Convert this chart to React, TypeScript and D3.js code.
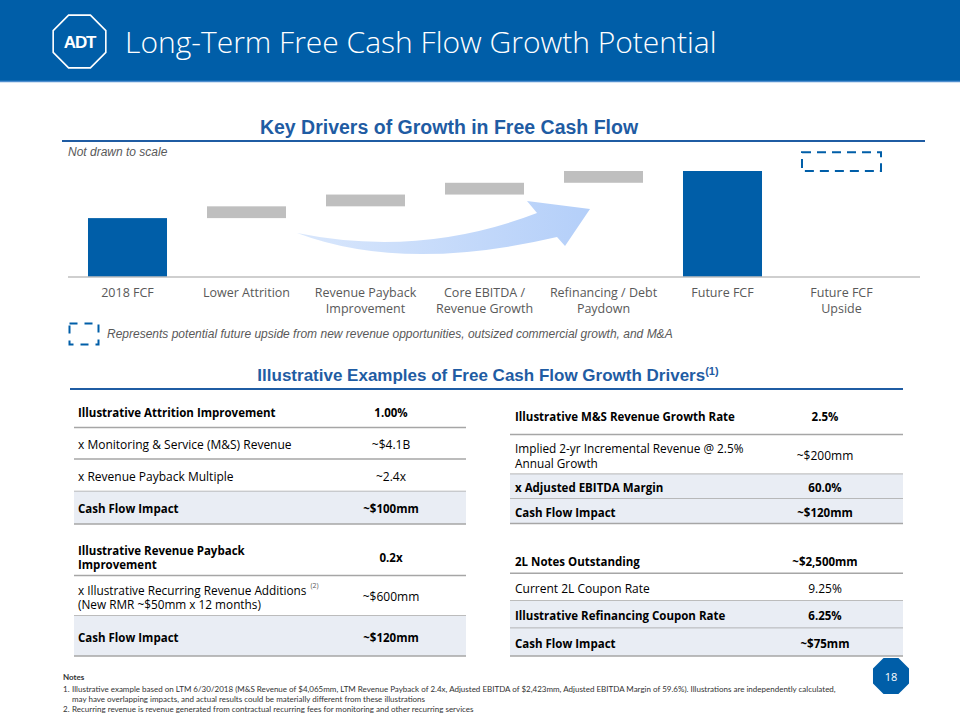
import React from "react";
import * as d3 from "d3";

// ---------- DATA ----------
const categories = [
  "2018 FCF",
  "Lower Attrition",
  "Revenue Payback Improvement",
  "Core EBITDA / Revenue Growth",
  "Refinancing / Debt Paydown",
  "Future FCF",
  "Future FCF Upside",
];
const categoryLines = [
  ["2018 FCF"],
  ["Lower Attrition"],
  ["Revenue Payback", "Improvement"],
  ["Core EBITDA /", "Revenue Growth"],
  ["Refinancing / Debt", "Paydown"],
  ["Future FCF"],
  ["Future FCF", "Upside"],
];
// illustrative units ("Not drawn to scale")
const barValues = [5, 1, 1, 1, 1, 9, 1.6];
const barKinds = ["total", "delta", "delta", "delta", "delta", "total", "upside"];

const leftLabels = [
  ["Illustrative Attrition Improvement"],
  ["x Monitoring & Service (M&S) Revenue"],
  ["x Revenue Payback Multiple"],
  ["Cash Flow Impact"],
  ["Illustrative Revenue Payback", "Improvement"],
  ["x Illustrative Recurring Revenue Additions", "(New RMR ~$50mm x 12 months)"],
  ["Cash Flow Impact"],
];
const leftValues = ["1.00%", "~$4.1B", "~2.4x", "~$100mm", "0.2x", "~$600mm", "~$120mm"];
const leftBold = [true, false, false, true, true, false, true];
const leftShade = [false, false, false, true, false, false, true];

const rightLabels = [
  ["Illustrative M&S Revenue Growth Rate"],
  ["Implied 2-yr Incremental Revenue @ 2.5%", "Annual Growth"],
  ["x Adjusted EBITDA Margin"],
  ["Cash Flow Impact"],
  ["2L Notes Outstanding"],
  ["Current 2L Coupon Rate"],
  ["Illustrative Refinancing Coupon Rate"],
  ["Cash Flow Impact"],
];
const rightValues = ["2.5%", "~$200mm", "60.0%", "~$120mm", "~$2,500mm", "9.25%", "6.25%", "~$75mm"];
const rightBold = [true, false, true, true, true, false, true, true];
const rightShade = [false, false, true, true, false, false, true, true];

const noteLines = [
  "Illustrative example based on LTM 6/30/2018 (M&S Revenue of $4,065mm, LTM Revenue Payback of 2.4x, Adjusted EBITDA of $2,423mm, Adjusted EBITDA Margin of 59.6%). Illustrations are independently calculated,",
  "may have overlapping impacts, and actual results could be materially different from these illustrations",
  "Recurring revenue is revenue generated from contractual recurring fees for monitoring and other recurring services",
];

// ---------- LAYOUT ----------
const W = 960;
const H = 720;
const BLUE = "#005EA8";
const HEAD_BLUE = "#1F5CA3";
const GRAY_TXT = "#595959";
const TABLE_FONT = "'Open Sans', 'Noto Sans', sans-serif";

const leftRowsY = [
  [396, 427.5], [427.5, 459], [459, 491.5], [491.5, 524], [537, 575.5], [575.5, 616], [616, 656],
];
const rightRowsY = [
  [397, 434.5], [434.5, 474.3], [474.3, 499], [499, 523.5], [548, 573.3], [573.3, 601], [601, 628.3], [628.3, 656],
];

function octagon(cx: number, cy: number, r: number) {
  const pts: [number, number][] = [];
  for (let k = 0; k < 8; k++) {
    const a = (Math.PI / 8) + (k * Math.PI) / 4;
    pts.push([cx + r * Math.cos(a), cy + r * Math.sin(a)]);
  }
  return "M" + pts.map((p) => p.join(",")).join("L") + "Z";
}

function Table({ x0, x1, valueX, textX, labels, values, bold, shade, rows, sup }: any) {
  return (
    <g>
      {rows.map((r: number[], i: number) => {
        const [t, b] = r;
        const cy = (t + b) / 2 + 1;
        const lines = labels[i];
        const fw = bold[i] ? 700 : 400;
        const fs = bold[i] ? 11.5 : lines.length > 1 ? 11.8 : 12;
        return (
          <g key={i}>
            {shade[i] && <rect x={x0} y={t} width={x1 - x0} height={b - t} fill="#E9EDF4" />}
            <line x1={x0} x2={x1} y1={b} y2={b} stroke="#A6A6A6" strokeWidth={1.5} />
            {lines.map((ln: string, j: number) => (
              <text
                key={j}
                x={textX}
                y={cy + (j - (lines.length - 1) / 2) * 14.2}
                dominantBaseline="central"
                fontFamily={TABLE_FONT}
                fontSize={fs}
                fontWeight={fw}
                fill="#000"
              >
                {ln}
                {sup && sup.row === i && j === 0 ? (
                  <tspan fontSize={7} dx={4} dy={-5} fill="#595959" fontWeight={400}>
                    {sup.text}
                  </tspan>
                ) : null}
              </text>
            ))}
            <text
              x={valueX}
              y={cy}
              textAnchor="middle"
              dominantBaseline="central"
              fontFamily={TABLE_FONT}
              fontSize={bold[i] ? 11.5 : 12}
              fontWeight={fw}
              fill="#000"
            >
              {values[i]}
            </text>
          </g>
        );
      })}
    </g>
  );
}

export default function App() {
  // waterfall
  let cum = 0;
  let lastTotal = 0;
  const bars = barValues.map((v, i) => {
    const kind = barKinds[i];
    let y0 = 0, y1 = v;
    if (kind === "total") { y0 = 0; y1 = v; cum = v; lastTotal = v; }
    else if (kind === "delta") { y0 = cum; y1 = cum + v; cum = y1; }
    else { y0 = lastTotal; y1 = lastTotal + v; }
    return { cat: categories[i], lines: categoryLines[i], kind, y0, y1 };
  });

  const x = d3.scaleBand<string>().domain(categories).range([68, 901]).paddingInner(0.336).paddingOuter(0.168);
  const y = d3.scaleLinear().domain([0, 9]).range([277, 171]);
  const bw = x.bandwidth();

  // arrow anchored relative to the drivers' bars
  const tx = (x(categories[1]) as number) + bw + 11;
  const ty = y(3.73);
  const arrowPath = d3.path();
  arrowPath.moveTo(tx, ty);
  arrowPath.quadraticCurveTo(tx + 123, ty + 25, tx + 240, ty - 20);
  arrowPath.lineTo(tx + 230, ty - 32);
  arrowPath.lineTo(tx + 293, ty - 24);
  arrowPath.lineTo(tx + 268, ty + 13);
  arrowPath.lineTo(tx + 260, ty + 4);
  arrowPath.quadraticCurveTo(tx + 106, ty + 40, tx, ty);
  arrowPath.closePath();

  return (
    <svg
      width={W}
      height={H}
      viewBox={`0 0 ${W} ${H}`}
      style={{ position: "absolute", left: 0, top: 0, background: "#fff" }}
    >
      <defs>
        <linearGradient id="arrowGrad" x1="0" x2="1" y1="0" y2="0">
          <stop offset="0" stopColor="#D9E7FC" />
          <stop offset="1" stopColor="#B4CFF9" />
        </linearGradient>
      </defs>
      <rect x={0} y={0} width={W} height={H} fill="#fff" />

      {/* Header */}
      <rect x={0} y={0} width={W} height={81} fill={BLUE} />
      <line x1={0} x2={W} y1={81.5} y2={81.5} stroke="#4F8FCF" strokeWidth={1.5} />
      <path d={octagon(79.5, 41.5, 28.5)} fill="none" stroke="#fff" strokeWidth={1.6} />
      <text x={79.5} y={47.5} textAnchor="middle" fontFamily="'Liberation Sans', Arial, sans-serif" fontWeight={700} fontSize={17} letterSpacing={-1.2} fill="#fff">
        ADT
      </text>
      <text x={125} y={53} fontFamily="'Open Sans', sans-serif" fontWeight={300} fontSize={30} fill="#fff">
        Long-Term Free Cash Flow Growth Potential
      </text>

      {/* Chart heading */}
      <text x={449} y={134} textAnchor="middle" fontFamily="'Liberation Sans', Arial, sans-serif" fontWeight={700} fontSize={19.5} fill={HEAD_BLUE}>
        Key Drivers of Growth in Free Cash Flow
      </text>
      <line x1={62} x2={925} y1={141} y2={141} stroke={HEAD_BLUE} strokeWidth={2} />
      <text x={68} y={156} fontFamily="'Liberation Sans', Arial, sans-serif" fontStyle="italic" fontSize={12} fill={GRAY_TXT}>
        Not drawn to scale
      </text>

      {/* Arrow */}
      <path d={arrowPath.toString()} fill="url(#arrowGrad)" />

      {/* Bars */}
      {bars.map((b, i) => {
        const bx = x(b.cat) as number;
        const top = y(b.y1);
        const bot = y(b.y0);
        if (b.kind === "upside") {
          return (
            <rect key={i} x={bx} y={top} width={bw} height={bot - top} fill="none" stroke={BLUE} strokeWidth={2} strokeDasharray="9,6" />
          );
        }
        return (
          <rect key={i} x={bx} y={top} width={bw} height={bot - top} fill={b.kind === "total" ? BLUE : "#BFBFBF"} />
        );
      })}
      <line x1={68} x2={920} y1={y(0)} y2={y(0)} stroke="#BFBFBF" strokeWidth={1.5} />

      {/* Category labels */}
      {bars.map((b, i) => (
        <text key={i} textAnchor="middle" fontFamily={TABLE_FONT} fontSize={12.5} fill={GRAY_TXT}>
          {b.lines.map((ln: string, j: number) => (
            <tspan key={j} x={(x(b.cat) as number) + bw / 2} y={297 + j * 16}>
              {ln}
            </tspan>
          ))}
        </text>
      ))}

      {/* Legend */}
      <rect x={69.5} y={323.5} width={29} height={21} fill="none" stroke={BLUE} strokeWidth={2} strokeDasharray="8,7" />
      <text x={107} y={338} fontFamily="'Liberation Sans', Arial, sans-serif" fontStyle="italic" fontSize={12} fill={GRAY_TXT}>
        Represents potential future upside from new revenue opportunities, outsized commercial growth, and M&amp;A
      </text>

      {/* Tables heading */}
      <text x={488} y={381} textAnchor="middle" fontFamily="'Liberation Sans', Arial, sans-serif" fontWeight={700} fontSize={17} fill={HEAD_BLUE}>
        Illustrative Examples of Free Cash Flow Growth Drivers
        <tspan fontSize={11} dy={-6}>(1)</tspan>
      </text>
      <line x1={70} x2={903} y1={389} y2={389} stroke={HEAD_BLUE} strokeWidth={2} />

      <Table
        x0={74}
        x1={466}
        textX={78}
        valueX={391}
        labels={leftLabels}
        values={leftValues}
        bold={leftBold}
        shade={leftShade}
        rows={leftRowsY}
        sup={{ row: 5, text: "(2)" }}
      />
      <Table
        x0={510}
        x1={903}
        textX={515}
        valueX={825}
        labels={rightLabels}
        values={rightValues}
        bold={rightBold}
        shade={rightShade}
        rows={rightRowsY}
      />

      {/* Notes */}
      <g fontFamily="'Lato', sans-serif" fontSize={8} fill="#333">
        <text x={63} y={680} fontWeight={700}>Notes</text>
        <text x={63} y={691.5}>1.</text>
        <text x={72} y={691.5}>{noteLines[0]}</text>
        <text x={72} y={701.5}>{noteLines[1]}</text>
        <text x={63} y={712}>2.</text>
        <text x={72} y={712}>{noteLines[2]}</text>
      </g>

      {/* Page number */}
      <path d={octagon(891, 676, 19.5)} fill={BLUE} />
      <text x={891} y={676} textAnchor="middle" dominantBaseline="central" fontFamily="'Open Sans', sans-serif" fontSize={11} fill="#fff">
        18
      </text>
    </svg>
  );
}
